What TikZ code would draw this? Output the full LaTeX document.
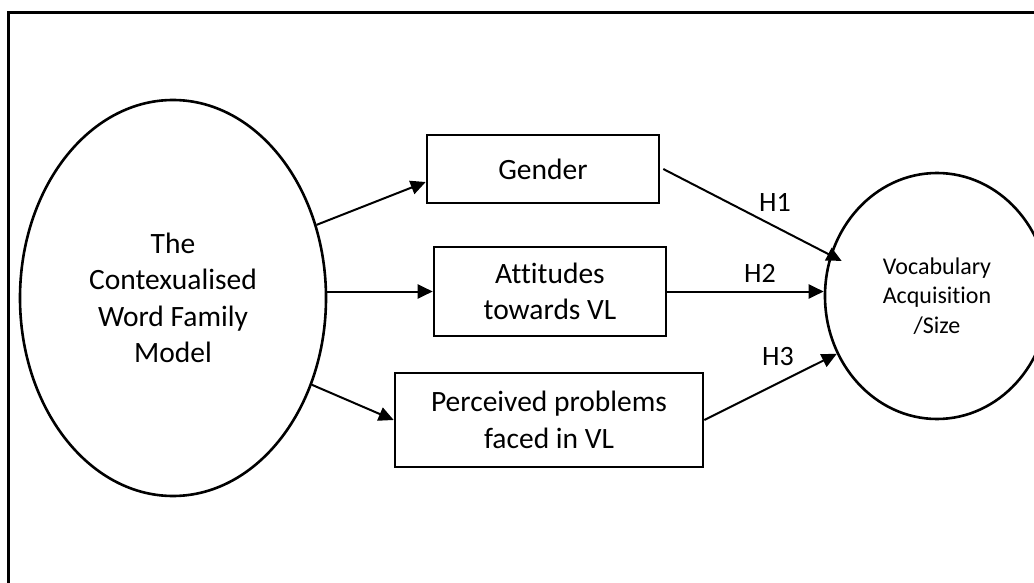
\documentclass[tikz,border=0pt]{standalone}
\usepackage{fontspec}
\setmainfont{Carlito}[Ligatures=NoCommon]
\usetikzlibrary{arrows.meta,shapes.geometric}
\begin{document}
\begin{tikzpicture}[x=1pt,y=-1pt,
  bigtext/.style={font=\fontsize{29.5}{36.5}\selectfont, align=center},
  ellnode/.style={draw, line width=2.6pt, ellipse, inner sep=0pt, bigtext},
  boxnode/.style={draw, line width=2.6pt, rectangle, inner sep=0pt, bigtext},
  arr/.style={line width=2pt, -{Triangle[length=15pt,width=14pt]}},
  hlabel/.style={font=\fontsize{28}{32}\selectfont}
]
\useasboundingbox (0,0) rectangle (1034,583);
\draw[line width=3pt] (8.5,13) rectangle (1060,620);

\node[ellnode, minimum width=306pt, minimum height=396pt] (L) at (173,298)
  {The\\Contexualised\\Word Family\\Model};
\node[ellnode, minimum width=224pt, minimum height=246pt,
  font=\fontsize{24}{29.5}\selectfont] (R) at (937,296)
  {Vocabulary\\Acquisition\\/Size};

\node[boxnode, minimum width=232pt, minimum height=68pt] (gender) at (543,169) {Gender};
\node[boxnode, minimum width=232pt, minimum height=89pt] (att) at (550,291.5) {Attitudes\\towards VL};
\node[boxnode, minimum width=308pt, minimum height=94pt] (perc) at (549,420) {Perceived problems\\faced in VL};

\draw[arr] (L.27) -- ([yshift=-13pt]gender.west);
\draw[arr] (L.east |- att.west) -- (att.west);
\draw[arr] (L.-32) -- (perc.west);

\draw[arr, shorten >=-13pt] ([xshift=3pt]gender.east) -- (R.159);
\draw[arr] (att.east) -- (att.east -| R.west);
\draw[arr] (perc.east) -- (R.210);

\node[hlabel] (h1) at (775,202) {H1};
\node[hlabel] (h2) at (760,273) {H2};
\node[hlabel] (h3) at (778,357) {H3};
\end{tikzpicture}
\end{document}
